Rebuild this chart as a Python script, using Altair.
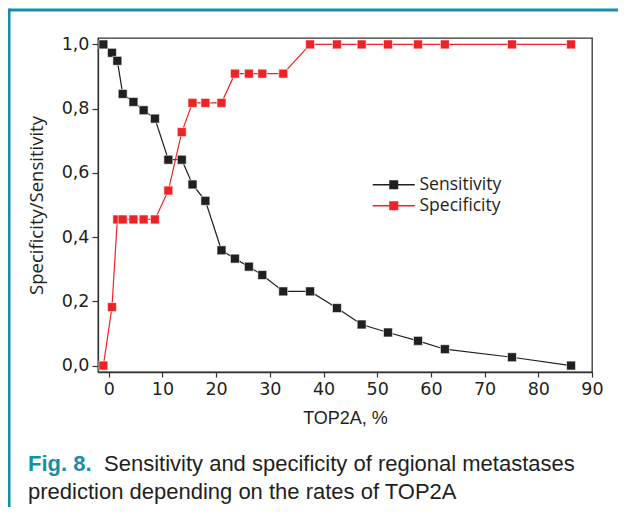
import altair as alt
import pandas as pd

# ---- data ----
top2a = [-1, 0.6, 1.6, 2.6, 4.6, 6.5, 8.6, 11.1, 13.6, 15.6, 18.0, 21.0,
         23.5, 26.1, 28.6, 32.5, 37.5, 42.5, 47.1, 52.0, 57.6, 62.6, 75.1, 86.1]
sensitivity = [1.0, 0.974, 0.949, 0.846, 0.821, 0.795, 0.769, 0.641, 0.641, 0.564,
               0.513, 0.359, 0.333, 0.308, 0.282, 0.231, 0.231, 0.179, 0.128,
               0.103, 0.077, 0.051, 0.026, 0.0]
specificity = [0.0, 0.182, 0.455, 0.455, 0.455, 0.455, 0.455, 0.545, 0.727, 0.818,
               0.818, 0.818, 0.909, 0.909, 0.909, 0.909, 1.0, 1.0, 1.0, 1.0, 1.0,
               1.0, 1.0, 1.0]
series_names = ["Sensitivity", "Specificity"]
series_colors = ["#231f20", "#ee2326"]
x_title = "TOP2A, %"
y_title = "Specificity/Sensitivity"
caption_bold = ["Fig. 8."]
caption_line1 = ["Sensitivity and specificity of regional metastases"]
caption_line2 = ["prediction depending on the rates of TOP2A"]

rows = []
for i, xv in enumerate(top2a):
    rows.append({"x": xv, "y": sensitivity[i], "series": "Sensitivity", "order": i})
    rows.append({"x": xv, "y": specificity[i], "series": "Specificity", "order": i})
df = pd.DataFrame(rows)

W, H = 494, 334
PL, PT, PR, PB = 90, 30, 26, 135
TEAL = "#178ea9"
FONT = "Open Sans"
TICKFONT = "DejaVu Sans"

xscale = alt.Scale(domain=[-2, 90], nice=False, zero=False)
yscale = alt.Scale(domain=[-0.02, 1.02], nice=False, zero=False)
cscale = alt.Scale(domain=series_names, range=series_colors)

xaxis = alt.Axis(
    values=list(range(0, 91, 5)),
    labelExpr="datum.value % 10 == 0 ? format(datum.value, 'd') : ''",
    tickSize={"condition": {"test": "datum.value % 10 == 0", "value": 5}, "value": 3},
    grid=False, title=x_title, titleFont="Liberation Sans", titleFontSize=18,
    titleFontWeight="normal", titleColor="#231f20", titlePadding=12,
    labelFont=TICKFONT, labelFontSize=17.5, labelColor="#231f20", labelPadding=3,
    domainColor="#333333", domainWidth=1.3, tickColor="#333333", tickWidth=1.2,
    labelFlush=False, labelOverlap=False,
)
yaxis = alt.Axis(
    values=[round(v * 0.1, 1) for v in range(0, 11)],
    labelExpr="round(datum.value*10) % 2 == 0 ? replace(format(datum.value, '.1f'), '.', ',') : ''",
    tickSize={"condition": {"test": "round(datum.value*10) % 2 == 0", "value": 6}, "value": 3},
    grid=False, title=y_title, titleFont=FONT, titleFontSize=18.5,
    titleFontWeight="normal", titleColor="#231f20", titlePadding=15,
    labelFont=TICKFONT, labelFontSize=17.5, labelColor="#231f20", labelPadding=3,
    domainColor="#333333", domainWidth=1.3, tickColor="#333333", tickWidth=1.2,
    labelFlush=False, labelOverlap=False,
)

legend_path = ("M-4.67,-0.14L4.67,-0.14L4.67,0.14L-4.67,0.14Z"
               "M-1,-1L1,-1L1,1L-1,1Z")
legend = alt.Legend(
    orient="none", legendX=287, legendY=138, title=None,
    symbolType=legend_path, symbolSize=81, symbolStrokeWidth=0,
    symbolOpacity=1, labelOffset=17, labelFont=FONT,
    labelFontSize=17.5, labelColor="#231f20", rowPadding=2, padding=0,
)

base = alt.Chart(df)

lines = base.mark_line(strokeWidth=1.2).encode(
    x=alt.X("x:Q", scale=xscale, axis=xaxis),
    y=alt.Y("y:Q", scale=yscale, axis=yaxis),
    color=alt.Color("series:N", scale=cscale, legend=legend),
    detail="series:N",
    order="order:Q",
)

points = base.mark_point(shape="square", filled=True, size=80, opacity=1,
                         stroke="white", strokeWidth=0.6).encode(
    x="x:Q",
    y="y:Q",
    color=alt.Color("series:N", scale=cscale, legend=legend),
)

one = pd.DataFrame({"k": [0]})
frame_top = alt.Chart(one).mark_rule(color=TEAL, strokeWidth=3).encode(
    x=alt.value(-89), x2=alt.value(W + PR), y=alt.value(-28))
frame_left = alt.Chart(one).mark_rule(color=TEAL, strokeWidth=3).encode(
    x=alt.value(-89), y=alt.value(-29.5), y2=alt.value(H + PB))

cap_b = alt.Chart(pd.DataFrame({"t": caption_bold})).mark_text(
    align="left", baseline="alphabetic", font="Liberation Sans", fontSize=22,
    fontWeight="bold", color=TEAL).encode(
    x=alt.value(-70), y=alt.value(433), text="t:N")
cap_1 = alt.Chart(pd.DataFrame({"t": caption_line1})).mark_text(
    align="left", baseline="alphabetic", font="Liberation Sans", fontSize=22,
    color="#231f20").encode(
    x=alt.value(6), y=alt.value(433), text="t:N")
cap_2 = alt.Chart(pd.DataFrame({"t": caption_line2})).mark_text(
    align="left", baseline="alphabetic", font="Liberation Sans", fontSize=22,
    color="#231f20").encode(
    x=alt.value(-70), y=alt.value(461), text="t:N")

chart = alt.layer(lines, points, frame_top, frame_left, cap_b, cap_1, cap_2).properties(
    width=W, height=H,
    autosize=alt.AutoSizeParams(type="none"),
    padding={"left": PL, "top": PT, "right": PR, "bottom": PB},
    background="white",
).configure_view(stroke="#333333", strokeWidth=1.3)

chart.save("out.html", embed_options={"renderer": "svg", "actions": False})
